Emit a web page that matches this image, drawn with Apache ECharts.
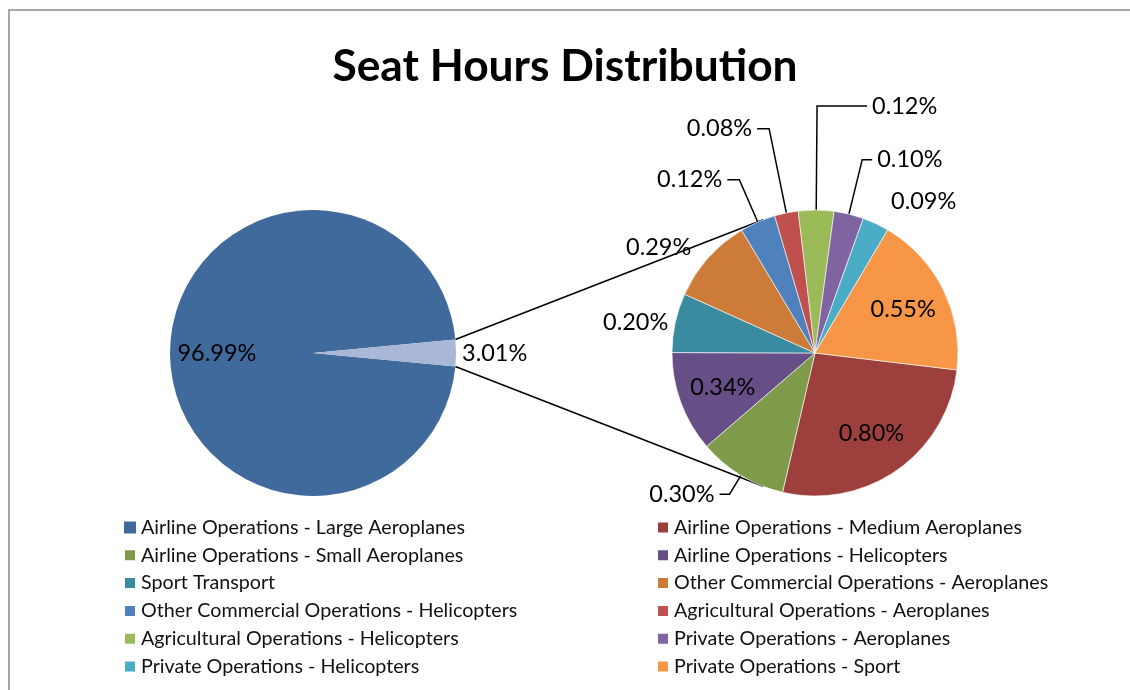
<!DOCTYPE html>
<html>
<head>
<meta charset="utf-8">
<script src="https://cdn.jsdelivr.net/npm/echarts@6/dist/echarts.min.js"></script>
<style>
  html, body { margin: 0; padding: 0; background: #fff; }
  #chart { width: 1130px; height: 690px; }
</style>
</head>
<body>
<div id="chart"></div>
<script>
// overall split (left pie)
const mainNames = ['Airline Operations - Large Aeroplanes', 'Other'];
const mainValues = [96.99, 3.01];
const mainColors = ['#416a9c', '#a9b8d8'];

// breakdown of the 3.01% (right pie), clockwise from the red slice
const detailNames = [
  'Airline Operations - Medium Aeroplanes',
  'Airline Operations - Small Aeroplanes',
  'Airline Operations - Helicopters',
  'Sport Transport',
  'Other Commercial Operations - Aeroplanes',
  'Other Commercial Operations - Helicopters',
  'Agricultural Operations - Aeroplanes',
  'Agricultural Operations - Helicopters',
  'Private Operations - Aeroplanes',
  'Private Operations - Helicopters',
  'Private Operations - Sport'
];
const detailValues = [0.80, 0.30, 0.34, 0.20, 0.29, 0.12, 0.08, 0.12, 0.10, 0.09, 0.55];
const detailColors = ['#9c3f3d', '#7f9a48', '#664f86', '#3b8ba0', '#cd7b38', '#4f81bd',
  '#c0504d', '#9bbb59', '#8064a2', '#4bacc6', '#f79646'];

// legend columns, as in the original
const legendLeft = [
  'Airline Operations - Large Aeroplanes',
  'Airline Operations - Small Aeroplanes',
  'Sport Transport',
  'Other Commercial Operations - Helicopters',
  'Agricultural Operations - Helicopters',
  'Private Operations - Helicopters'
];
const legendRight = [
  'Airline Operations - Medium Aeroplanes',
  'Airline Operations - Helicopters',
  'Other Commercial Operations - Aeroplanes',
  'Agricultural Operations - Aeroplanes',
  'Private Operations - Aeroplanes',
  'Private Operations - Sport'
];

// labels drawn inside the slices, with how far out (fraction of radius) they sit
const insideLabels = {
  'Airline Operations - Large Aeroplanes': 0.645,
  'Airline Operations - Medium Aeroplanes': 0.66,
  'Airline Operations - Helicopters': 0.66,
  'Private Operations - Sport': 0.66
};
// leader line lengths for outside labels; length2 0 = no visible line
const leaderLines = {
  'Other': [1, 0],
  'Airline Operations - Small Aeroplanes': [22, 10],
  'Sport Transport': [2, 0],
  'Other Commercial Operations - Aeroplanes': [16, 0],
  'Other Commercial Operations - Helicopters': [46, 12],
  'Agricultural Operations - Aeroplanes': [86, 12],
  'Agricultural Operations - Helicopters': [104, 50],
  'Private Operations - Aeroplanes': [56, 10],
  'Private Operations - Helicopters': [24, 0]
};

const FONT = 'Lato';
const R = 143;
const leftC = [313, 353];
const rightC = [815, 353];

const chart = echarts.init(document.getElementById('chart'));

function fmt(p) {
  return p.value.toFixed(2) + '%';
}

function buildData(names, values, colors) {
  return names.map((n, i) => {
    const inside = n in insideLabels;
    const item = {
      name: n,
      value: values[i],
      itemStyle: { color: colors[i] },
      label: { position: inside ? 'inside' : 'outside' }
    };
    if (!inside) {
      const l = leaderLines[n];
      item.labelLine = { show: l[1] > 0, length: l[0], length2: l[1] };
    }
    return item;
  });
}

// move inside labels radially to where Excel puts them (ECharts uses 1/2 radius)
function pushOut(center, names) {
  return function (params) {
    const f = insideLabels[names[params.dataIndex]];
    if (f === undefined) return {};
    const r = params.labelRect;
    const lx = r.x + r.width / 2;
    const ly = r.y + r.height / 2;
    const k = f / 0.5 - 1;
    return { dx: (lx - center[0]) * k, dy: (ly - center[1]) * k };
  };
}

// pie-of-pie connector lines: from the edges of the small slice, tangent to the second pie
const sumMain = mainValues.reduce((a, b) => a + b, 0);
const halfSmall = mainValues[1] / sumMain * Math.PI;
function tangentPoint(p, sign) {
  const dx = p[0] - rightC[0], dy = p[1] - rightC[1];
  const d = Math.sqrt(dx * dx + dy * dy);
  const base = Math.atan2(dy, dx);
  const a = base + sign * Math.acos(R / d);
  return [rightC[0] + R * Math.cos(a), rightC[1] + R * Math.sin(a)];
}
const pTop = [leftC[0] + R * Math.cos(halfSmall), leftC[1] - R * Math.sin(halfSmall)];
const pBot = [leftC[0] + R * Math.cos(halfSmall), leftC[1] + R * Math.sin(halfSmall)];
const tTop = tangentPoint(pTop, 1);
const tBot = tangentPoint(pBot, -1);

const labelStyle = {
  show: true,
  formatter: fmt,
  fontFamily: FONT,
  fontSize: 23.5,
  color: '#000'
};

const legendBase = {
  orient: 'vertical',
  top: 511,
  icon: 'rect',
  itemWidth: 12,
  itemHeight: 12,
  itemGap: 4.8,
  selectedMode: false,
  textStyle: { fontFamily: FONT, fontSize: 19.7, color: '#111', lineHeight: 23 }
};

chart.setOption({
  animation: false,
  title: {
    text: 'Seat Hours Distribution',
    left: 'center',
    top: 40,
    textStyle: { fontFamily: FONT, fontSize: 44.3, fontWeight: 'bold', color: '#000' }
  },
  legend: [
    Object.assign({ data: legendLeft, left: 118 }, legendBase),
    Object.assign({ data: legendRight, left: 651 }, legendBase)
  ],
  graphic: [
    {
      type: 'rect',
      shape: { x: 9, y: 10, width: 1200, height: 800 },
      style: { fill: 'none', stroke: '#8a8a8a', lineWidth: 1.5 },
      silent: true
    },
    {
      type: 'line',
      shape: { x1: pTop[0], y1: pTop[1], x2: tTop[0], y2: tTop[1] },
      style: { stroke: '#000', lineWidth: 1.5 },
      z: 1
    },
    {
      type: 'line',
      shape: { x1: pBot[0], y1: pBot[1], x2: tBot[0], y2: tBot[1] },
      style: { stroke: '#000', lineWidth: 1.5 },
      z: 1
    }
  ],
  series: [
    {
      type: 'pie',
      center: leftC,
      radius: R,
      startAngle: 360 - halfSmall * 180 / Math.PI,
      clockwise: true,
      avoidLabelOverlap: false,
      itemStyle: { borderWidth: 0 },
      label: labelStyle,
      labelLine: { show: false },
      labelLayout: pushOut(leftC, mainNames),
      emphasis: { disabled: true },
      data: buildData(mainNames, mainValues, mainColors)
    },
    {
      type: 'pie',
      center: rightC,
      radius: R,
      startAngle: 353.2,
      clockwise: true,
      avoidLabelOverlap: false,
      itemStyle: { borderColor: '#fff', borderWidth: 0.6 },
      label: labelStyle,
      labelLine: { lineStyle: { color: '#000', width: 1.5 } },
      labelLayout: pushOut(rightC, detailNames),
      emphasis: { disabled: true },
      data: buildData(detailNames, detailValues, detailColors)
    }
  ]
});
</script>
</body>
</html>
